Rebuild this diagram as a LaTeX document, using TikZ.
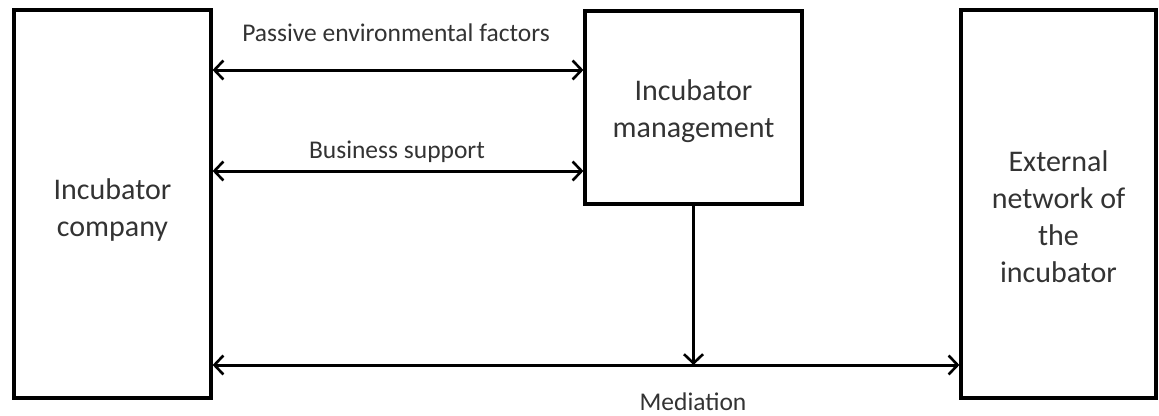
\documentclass[tikz,border=0pt]{standalone}
\usepackage{fontspec}
\setmainfont{Carlito}
\usetikzlibrary{arrows.meta}
\begin{document}
\begin{tikzpicture}[x=1pt,y=-1pt,
  box/.style={draw=black, line width=3.2pt, inner sep=0pt},
  boxtext/.style={align=center, font=\fontsize{30}{37}\selectfont, text=black!80},
  tip/.style={Straight Barb[length=9pt,width=19pt,line width=2.6pt]},
  conn/.style={line width=3pt, {Straight Barb[length=9pt,width=19pt,line width=2.6pt]}-{Straight Barb[length=9pt,width=19pt,line width=2.6pt]}},
  oneway/.style={line width=3pt, -{Straight Barb[length=9pt,width=19pt,line width=2.6pt]}},
  lbl/.style={font=\fontsize{25.5}{30}\selectfont, text=black!80}]
\useasboundingbox (0,0) rectangle (1159,415);
% boxes with their captions
\node[box, minimum width=197pt, minimum height=388pt,
  label={[boxtext, name=compt, yshift=-6pt]center:{Incubator\\company}}] (comp) at (112.5,204) {};
\node[box, minimum width=217pt, minimum height=193pt,
  label={[boxtext, name=mgmtt, yshift=-4pt]center:{Incubator\\management}}] (mgmt) at (693.5,107.5) {};
\node[box, minimum width=195pt, minimum height=388pt,
  label={[boxtext, name=extt, yshift=-13pt]center:{External\\network of\\the\\incubator}}] (ext) at (1058.5,204) {};
% anchor points on the box sides
\coordinate (c1) at (comp.east |- 0,70);
\coordinate (m1) at (mgmt.west |- 0,70);
\coordinate (c2) at (comp.east |- 0,171);
\coordinate (m2) at (mgmt.west |- 0,171);
\coordinate (c3) at (comp.east |- 0,365);
\coordinate (e3) at (ext.west |- 0,365);
\coordinate (j) at (mgmt.south |- 0,365);
% connectors
\draw[conn] (c1) -- (m1);
\draw[conn] (c2) -- (m2);
\draw[conn] (c3) -- (e3);
\draw[oneway] (mgmt.south) -- (j);
% connector labels
\node[lbl] (l1) at (396,33) {Passive environmental factors};
\node[lbl] (l2) at (397,152) {Business support};
\node[lbl] (l3) at (693,402) {Mediation};
\end{tikzpicture}
\end{document}
